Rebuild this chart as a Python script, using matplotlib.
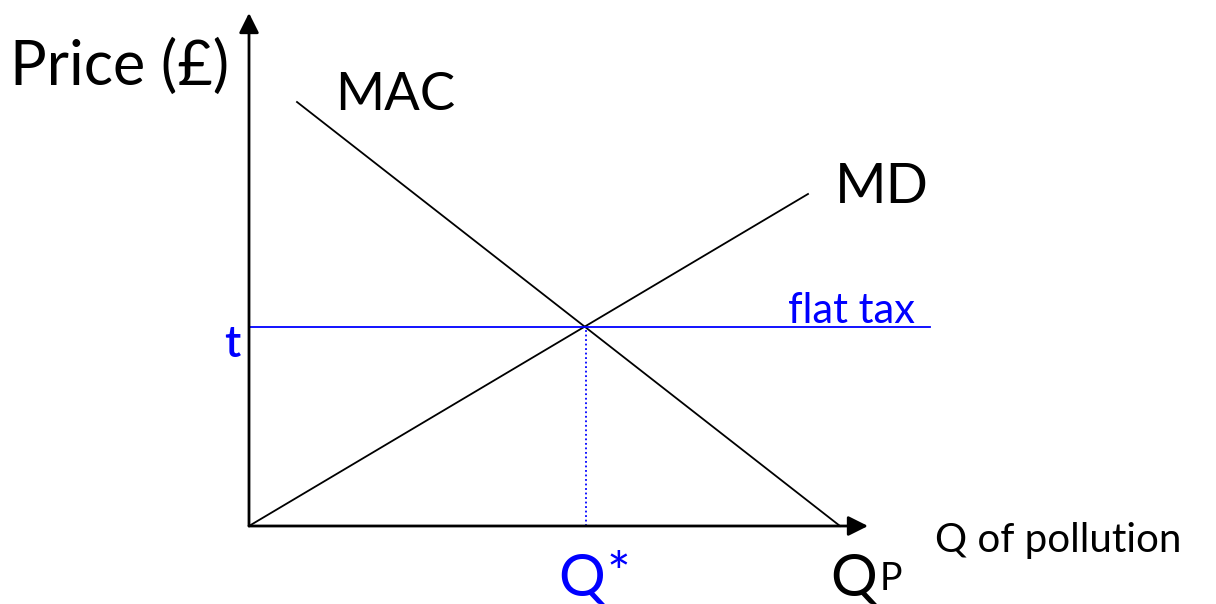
import matplotlib
matplotlib.use('Agg')
import matplotlib.pyplot as plt
import numpy as np

plt.rcParams['font.family'] = ['Lato', 'DejaVu Sans']

# curve end points (origin at the axes corner)
mac_x = [48, 591]
mac_y = [424, 0]
md_x = [0, 559]
md_y = [0, 332]
tax_level = 199
tax_end = 681
q_star = 337
x_axis_end = 619
y_axis_end = 513

blue = '#0000ff'

fig = plt.figure(figsize=(12.16, 6.04), dpi=100)
ax = fig.add_axes([0, 0, 1, 1])
ax.set_xlim(-249, 967)
ax.set_ylim(-78, 526)
ax.axis('off')

# axes with arrows
ax.annotate('', xy=(x_axis_end, 0), xytext=(0, 0),
            arrowprops=dict(arrowstyle='-|>', color='black', lw=2, mutation_scale=30, shrinkA=0, shrinkB=0))
ax.annotate('', xy=(0, y_axis_end), xytext=(0, 0),
            arrowprops=dict(arrowstyle='-|>', color='black', lw=2, mutation_scale=30, shrinkA=0, shrinkB=0))

# curves
ax.plot(mac_x, mac_y, color='black', lw=1.3)
ax.plot(md_x, md_y, color='black', lw=1.3)
ax.plot([0, tax_end], [tax_level, tax_level], color=blue, lw=1.3)
ax.plot([q_star, q_star], [0, tax_level], color=blue, lw=1.3, linestyle=(0, (1, 1.5)))

# labels
ax.text(-239, 441, 'Price (£)', fontsize=44, va='baseline', ha='left')
ax.text(86, 416, 'MAC', fontsize=38, va='baseline', ha='left')
ax.text(586, 323, 'MD', fontsize=40, va='baseline', ha='left')
ax.text(666, 203, 'flat tax', fontsize=30, va='baseline', ha='right', color=blue)
ax.text(-17, 169, 't', fontsize=32, va='baseline', ha='center', color=blue, fontweight='semibold')
ax.text(309, -70, 'Q', fontsize=42, va='baseline', ha='left', color=blue)
ax.text(358, -25, '*', fontsize=40, va='top', ha='left', color=blue)
ax.text(581, -70, 'Q', fontsize=42, va='baseline', ha='left')
ax.text(631, -64, 'P', fontsize=27, va='baseline', ha='left')
ax.text(686, -26, 'Q of pollution', fontsize=29, va='baseline', ha='left')

fig.savefig('out.png', dpi=100)
